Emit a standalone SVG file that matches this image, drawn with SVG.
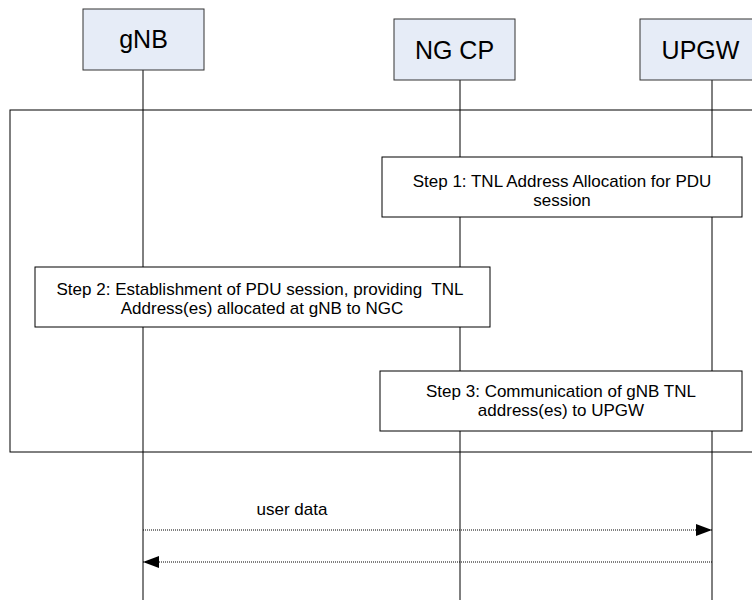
<svg xmlns="http://www.w3.org/2000/svg" width="752" height="600" viewBox="0 0 752 600">
<defs>
<style>
.ent{fill:#E6ECF7;stroke:#333;stroke-width:1}
.ent-t{font-family:"Liberation Sans",Arial,sans-serif;font-size:25px;fill:#000;text-anchor:middle}
.life{stroke:#000;stroke-width:1;fill:none}
.step{fill:#fff;stroke:#000;stroke-width:1}
.step-t{font-family:"Liberation Sans",Arial,sans-serif;font-size:17px;fill:#000;text-anchor:middle}
.msg{stroke:#000;stroke-width:1;stroke-dasharray:1,1;fill:none}
.lbl{font-family:"Liberation Sans",Arial,sans-serif;font-size:17px;fill:#000;text-anchor:middle}
</style>
<marker id="ah" markerWidth="16" markerHeight="12" refX="16" refY="6" orient="auto" markerUnits="userSpaceOnUse">
<path d="M0,0 L16,6 L0,12 Z" fill="#000"/>
</marker>
</defs>
<rect width="752" height="600" fill="#fff"/>
<g id="lifelines">
<line class="life" x1="143" y1="70" x2="143" y2="600"/>
<line class="life" x1="460" y1="80" x2="460" y2="600"/>
<line class="life" x1="712" y1="80" x2="712" y2="600"/>
</g>
<g id="frame">
<rect x="10" y="110" width="760" height="342" fill="none" stroke="#000" stroke-width="1"/>
</g>
<g id="gNB">
<rect class="ent" x="83" y="9" width="121" height="61"/>
<text class="ent-t" x="143.5" y="48">gNB</text>
</g>
<g id="NGCP">
<rect class="ent" x="394" y="19" width="121" height="61"/>
<text class="ent-t" x="454.5" y="59">NG CP</text>
</g>
<g id="UPGW">
<rect class="ent" x="640" y="19" width="121" height="61"/>
<text class="ent-t" x="700.5" y="59">UPGW</text>
</g>
<g id="step1">
<rect class="step" x="382" y="157" width="360" height="60"/>
<text class="step-t" x="562" y="187">Step 1: TNL Address Allocation for PDU</text>
<text class="step-t" x="562" y="206">session</text>
</g>
<g id="step2">
<rect class="step" x="35" y="267" width="455" height="60"/>
<text class="step-t" x="260" y="295" xml:space="preserve">Step 2: Establishment of PDU session, providing  TNL</text>
<text class="step-t" x="262" y="314">Address(es) allocated at gNB to NGC</text>
</g>
<g id="step3">
<rect class="step" x="380" y="371" width="362" height="60"/>
<text class="step-t" x="561" y="397">Step 3: Communication of gNB TNL</text>
<text class="step-t" x="561" y="416">address(es) to UPGW</text>
</g>
<g id="connectors">
<line class="msg" x1="143" y1="530" x2="712" y2="530" marker-end="url(#ah)"/>
<text class="lbl" x="292" y="515">user data</text>
<line class="msg" x1="712" y1="562" x2="143" y2="562" marker-end="url(#ah)"/>
</g>
</svg>
